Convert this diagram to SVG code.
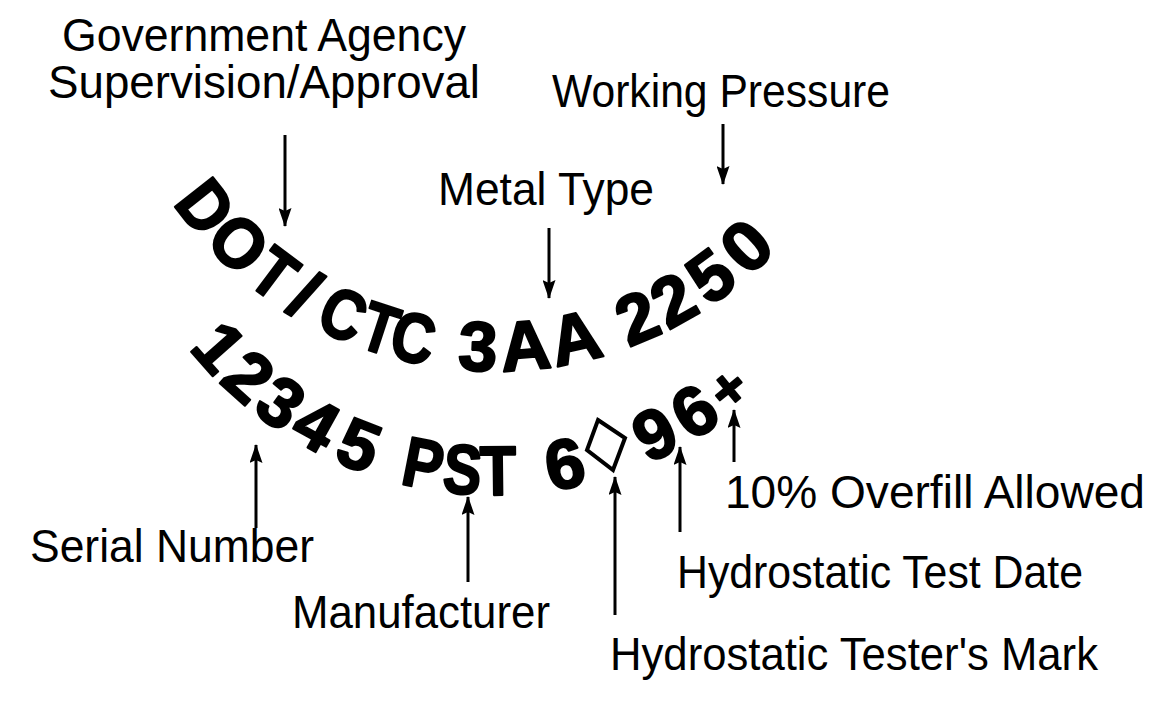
<svg xmlns="http://www.w3.org/2000/svg" width="1165" height="712" viewBox="0 0 1165 712">
<defs>
<style>
.lbl{font-family:"Liberation Sans","Arial",sans-serif;font-size:46px;fill:#000}
.big{font-family:"Liberation Sans","Arial",sans-serif;font-size:70px;font-weight:bold;fill:#000;stroke:#000;stroke-width:2.2;stroke-linejoin:round;text-anchor:middle}
.arr{stroke:#000;stroke-width:3;fill:none;marker-end:url(#ah)}
</style>
<marker id="ah" markerUnits="userSpaceOnUse" markerWidth="19" markerHeight="13" viewBox="0 0 19 13" refX="18" refY="6.5" orient="auto">
<path d="M0,0 L19,6.5 L0,13 L3,6.5 Z" fill="#000"/>
</marker>
</defs>
<rect width="1165" height="712" fill="#fff"/>

<g id="marking-top">
<text class="big" transform="rotate(51.8 494 -20) translate(494 371) scale(0.92 1)">D</text>
<text class="big" transform="rotate(44.1 494 -20) translate(494 371) scale(0.95 1)">O</text>
<text class="big" transform="rotate(36.8 494 -20) translate(494 371) scale(0.85 1)">T</text>
<text class="big" transform="rotate(31.0 494 -20) translate(494 371) scale(1 1)">/</text>
<text class="big" transform="rotate(24.3 494 -20) translate(494 371) scale(0.85 1)">C</text>
<text class="big" transform="rotate(18.1 494 -20) translate(494 371) scale(0.8 1)">T</text>
<text class="big" transform="rotate(12.7 494 -20) translate(494 371) scale(0.85 1)">C</text>
<text class="big" transform="rotate(2.5 494 -20) translate(494 371) scale(1 1)">3</text>
<text class="big" transform="rotate(-4.9 494 -20) translate(494 371) scale(1 1)">A</text>
<text class="big" transform="rotate(-12.8 494 -20) translate(494 371) scale(1 1)">A</text>
<text class="big" transform="rotate(-23.0 494 -20) translate(494 371) scale(1 1)">2</text>
<text class="big" transform="rotate(-29.3 494 -20) translate(494 371) scale(1 1)">2</text>
<text class="big" transform="rotate(-36.2 494 -20) translate(494 371) scale(1 1)">5</text>
<text class="big" transform="rotate(-43.5 494 -20) translate(494 371) scale(1.05 1)">0</text>
</g>

<g id="marking-bottom">
<text class="big" transform="rotate(48.5 494 104) translate(494 495) scale(1 1)">1</text>
<text class="big" transform="rotate(42.0 494 104) translate(494 495) scale(1 1)">2</text>
<text class="big" transform="rotate(35.5 494 104) translate(494 495) scale(1 1)">3</text>
<text class="big" transform="rotate(29.0 494 104) translate(494 495) scale(1 1)">4</text>
<text class="big" transform="rotate(21.6 494 104) translate(494 495) scale(1 1)">5</text>
<text class="big" transform="rotate(11.1 494 104) translate(494 495) scale(0.85 1)">P</text>
<text class="big" transform="rotate(4.9 494 104) translate(494 495) scale(0.82 1)">S</text>
<text class="big" transform="rotate(-0.6 494 104) translate(494 495) scale(0.85 1)">T</text>
<text class="big" transform="rotate(-11.1 494 104) translate(494 495) scale(1 1)">6</text>
<polygon points="598,420 625,438 613,470 587,450" fill="none" stroke="#000" stroke-width="4"/>
<text class="big" transform="rotate(-26.0 494 104) translate(494 495) scale(1 1)">9</text>
<text class="big" transform="rotate(-33.1 494 104) translate(494 495) scale(1 1)">6</text>
<text class="big" style="font-size:56px" stroke-width="3" transform="translate(728 388) rotate(-39.5) translate(0 20)">+</text>
</g>

<g id="label-government">
<text class="lbl" x="62" y="51" textLength="404" lengthAdjust="spacingAndGlyphs">Government Agency</text>
<text class="lbl" x="48" y="98" textLength="432" lengthAdjust="spacingAndGlyphs">Supervision/Approval</text>
</g>
<g id="label-working-pressure">
<text class="lbl" x="552" y="107" textLength="338" lengthAdjust="spacingAndGlyphs">Working Pressure</text>
</g>
<g id="label-metal-type">
<text class="lbl" x="438" y="205" textLength="216" lengthAdjust="spacingAndGlyphs">Metal Type</text>
</g>
<g id="label-serial">
<text class="lbl" x="30" y="562" textLength="284" lengthAdjust="spacingAndGlyphs">Serial Number</text>
</g>
<g id="label-manufacturer">
<text class="lbl" x="292" y="628" textLength="258" lengthAdjust="spacingAndGlyphs">Manufacturer</text>
</g>
<g id="label-tester-mark">
<text class="lbl" x="610" y="670" textLength="488" lengthAdjust="spacingAndGlyphs">Hydrostatic Tester's Mark</text>
</g>
<g id="label-test-date">
<text class="lbl" x="677" y="588" textLength="406" lengthAdjust="spacingAndGlyphs">Hydrostatic Test Date</text>
</g>
<g id="label-overfill">
<text class="lbl" x="725" y="508" textLength="420" lengthAdjust="spacingAndGlyphs">10% Overfill Allowed</text>
</g>

<g id="connectors">
<line class="arr" x1="285" y1="135" x2="285" y2="226"/>
<line class="arr" x1="549" y1="228" x2="549" y2="298"/>
<line class="arr" x1="723" y1="124" x2="723" y2="184"/>
<line class="arr" x1="256" y1="528" x2="256" y2="445"/>
<line class="arr" x1="468" y1="582" x2="468" y2="497"/>
<line class="arr" x1="615" y1="615" x2="615" y2="477"/>
<line class="arr" x1="680" y1="532" x2="680" y2="447"/>
<line class="arr" x1="734" y1="462" x2="734" y2="410"/>
</g>
</svg>
